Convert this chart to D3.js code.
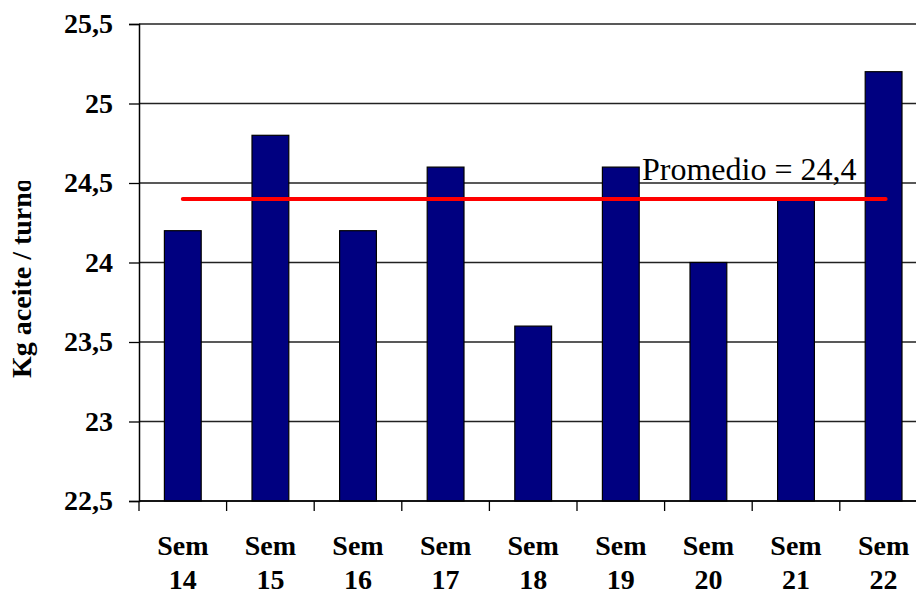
<!DOCTYPE html>
<html>
<head>
<meta charset="utf-8">
<script src="https://cdn.jsdelivr.net/npm/d3@7"></script>
<style>
  html, body { margin: 0; padding: 0; background: #fff; }
  svg { display: block; }
</style>
</head>
<body>
<svg id="chart" width="916" height="594"></svg>
<script>
// Weekly oil consumption per shift
const weeks = ["14", "15", "16", "17", "18", "19", "20", "21", "22"];
const values = [24.2, 24.8, 24.2, 24.6, 23.6, 24.6, 24.0, 24.4, 25.2];
const yTicks = [22.5, 23, 23.5, 24, 24.5, 25, 25.5];
const average = 24.4;
const avgLabel = "Promedio = 24,4";
const yTitle = "Kg aceite / turno";

const svg = d3.select("#chart");
const serif = "'Liberation Serif', 'Times New Roman', Times, serif";

const plotLeft = 139, plotTop = 24, plotBottom = 501, plotRight = 927.4;

const x = d3.scaleBand()
  .domain(weeks)
  .range([plotLeft, plotRight])
  .paddingInner(0.58)
  .paddingOuter(0.29);

const y = d3.scaleLinear()
  .domain([22.5, 25.5])
  .range([plotBottom, plotTop]);

const fmt = v => String(v).replace(".", ",");

// Horizontal gridlines
svg.append("g")
  .selectAll("line")
  .data(yTicks)
  .join("line")
  .attr("x1", plotLeft).attr("x2", plotRight)
  .attr("y1", d => y(d)).attr("y2", d => y(d))
  .attr("stroke", "#222").attr("stroke-width", 1.3);

// Bars
svg.append("g")
  .selectAll("rect")
  .data(values)
  .join("rect")
  .attr("x", (d, i) => x(weeks[i]))
  .attr("y", d => y(d))
  .attr("width", x.bandwidth())
  .attr("height", d => plotBottom - y(d))
  .attr("fill", "#000080")
  .attr("stroke", "#000")
  .attr("stroke-width", 1.2);

// Y axis
const yAxis = d3.axisLeft(y)
  .tickValues(yTicks)
  .tickSize(10)
  .tickPadding(16)
  .tickFormat(fmt);
const gy = svg.append("g")
  .attr("transform", `translate(${plotLeft},0)`)
  .call(yAxis)
  .attr("font-family", serif);
gy.select(".domain").attr("stroke", "#000").attr("stroke-width", 1.5);
gy.selectAll(".tick line").attr("stroke", "#000").attr("stroke-width", 1.3);
gy.selectAll(".tick text")
  .style("font-family", serif)
  .attr("font-weight", "bold")
  .attr("font-size", 28)
  .attr("fill", "#000");

// X axis with ticks on category boundaries
const step = x.step();
const boundaries = d3.range(weeks.length + 1).map(i => plotLeft + i * step);
svg.append("line")
  .attr("x1", plotLeft).attr("x2", plotRight)
  .attr("y1", plotBottom).attr("y2", plotBottom)
  .attr("stroke", "#000").attr("stroke-width", 1.5);
svg.append("g")
  .selectAll("line")
  .data(boundaries)
  .join("line")
  .attr("x1", d => d).attr("x2", d => d)
  .attr("y1", plotBottom).attr("y2", plotBottom + 10)
  .attr("stroke", "#000").attr("stroke-width", 1.3);

// Category labels on two lines
const xl = svg.append("g")
  .selectAll("text")
  .data(weeks)
  .join("text")
  .attr("text-anchor", "middle")
  .style("font-family", serif)
  .attr("font-weight", "bold")
  .attr("font-size", 28)
  .attr("fill", "#000");
xl.append("tspan").attr("x", d => x(d) + x.bandwidth() / 2).attr("y", 555).text("Sem");
xl.append("tspan").attr("x", d => x(d) + x.bandwidth() / 2).attr("y", 589).text(d => d);

// Average line
const cx0 = x(weeks[0]) + x.bandwidth() / 2;
const cx1 = x(weeks[weeks.length - 1]) + x.bandwidth() / 2;
svg.append("line")
  .attr("x1", cx0).attr("x2", cx1 + 2)
  .attr("y1", y(average)).attr("y2", y(average))
  .attr("stroke", "#ff0000")
  .attr("stroke-width", 4)
  .attr("stroke-linecap", "round");

svg.append("text")
  .attr("x", 642)
  .attr("y", 180)
  .style("font-family", serif)
  .attr("font-size", 32)
  .attr("fill", "#000")
  .text(avgLabel);

// Y axis title, clipped by its text box
svg.append("clipPath").attr("id", "titleClip")
  .append("rect").attr("x", 0).attr("y", 181).attr("width", 60).attr("height", 220);
svg.append("g").attr("clip-path", "url(#titleClip)")
  .append("text")
  .attr("transform", "translate(31,378) rotate(-90)")
  .style("font-family", serif)
  .attr("font-weight", "bold")
  .attr("font-size", 28)
  .attr("fill", "#000")
  .text(yTitle);
</script>
</body>
</html>
